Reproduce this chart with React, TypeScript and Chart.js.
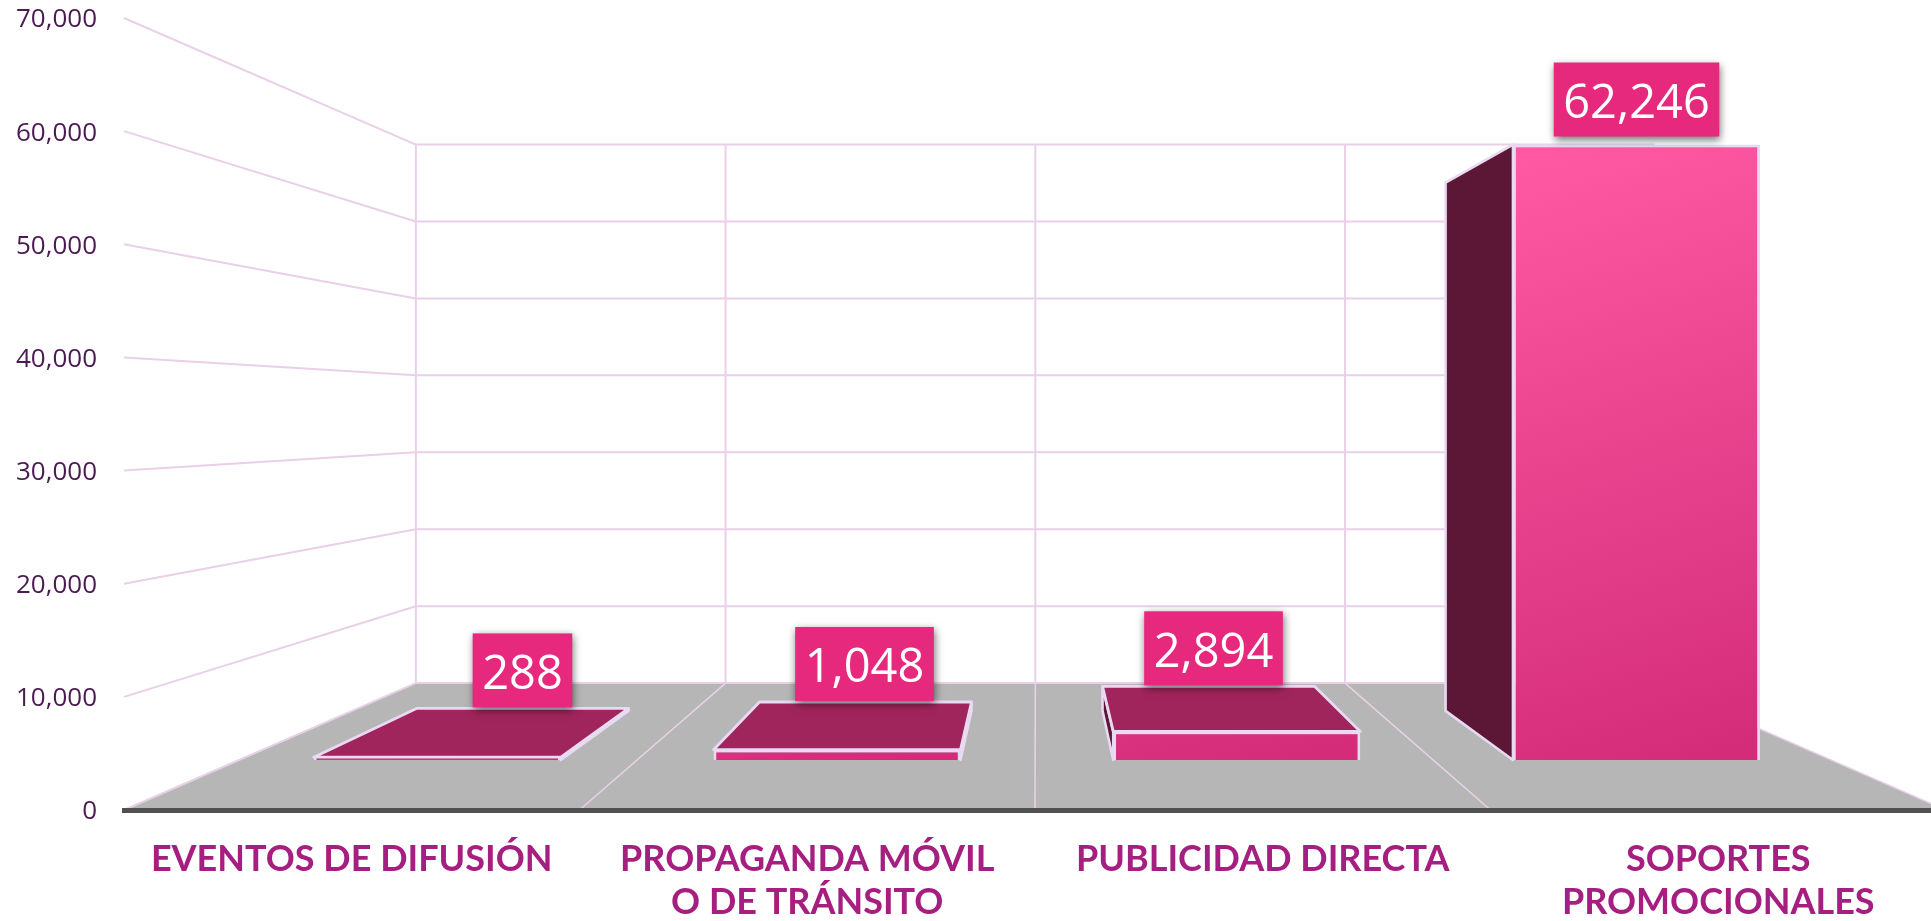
import React, { useEffect, useRef } from "react";
import { Chart, registerables } from "chart.js";

Chart.register(...registerables);

const categories = [
  ["EVENTOS DE DIFUSIÓN"],
  ["PROPAGANDA MÓVIL", "O DE TRÁNSITO"],
  ["PUBLICIDAD DIRECTA"],
  ["SOPORTES", "PROMOCIONALES"],
];
const values = [288, 1048, 2894, 62246];
const yMax = 70000;
const yStep = 10000;

// Perspective set-up (the front plane is what Chart.js lays out)
const VX = 1036;
const VY = 413.5;
const WALL_S = 0.68;
const BAR_FRONT_S = 0.874;
const BAR_BACK_S = 0.75;
const BAR_X_GAIN = 1.0041;
const BAR_X_SHIFT = 1.76;
const labelNudgeX = [0, -1, 5, 0];

const LINE = "#e9d0e8";
const BORDER = "#e8daf2";
const FLOOR = "#b6b6b6";
const TOP_FACE = "#a0255c";
const SIDE_FACE = "#5c1736";
const BADGE = "#e7297d";

const P = (x: number, y: number, s: number): [number, number] => [VX + (x - VX) * s, VY + (y - VY) * s];
const B = (x: number, y: number, s: number): [number, number] => [
  VX + BAR_X_SHIFT + (x - VX) * s * BAR_X_GAIN,
  VY + (y - VY) * s,
];

function poly(ctx: CanvasRenderingContext2D, pts: [number, number][], fill: string | null, stroke: string | null, w = 2) {
  ctx.beginPath();
  pts.forEach((p, i) => (i ? ctx.lineTo(p[0], p[1]) : ctx.moveTo(p[0], p[1])));
  ctx.closePath();
  if (fill) {
    ctx.fillStyle = fill;
    ctx.fill();
  }
  if (stroke) {
    ctx.strokeStyle = stroke;
    ctx.lineWidth = w;
    ctx.lineJoin = "round";
    ctx.stroke();
  }
}

function seg(ctx: CanvasRenderingContext2D, a: [number, number], b: [number, number], w: number) {
  ctx.beginPath();
  ctx.moveTo(a[0], a[1]);
  ctx.lineTo(b[0], b[1]);
  ctx.strokeStyle = LINE;
  ctx.lineWidth = w;
  ctx.stroke();
}

const perspective3D = {
  id: "perspective3D",
  afterLayout(chart: any) {
    // the value labels sit a little under their grid lines
    chart.scales.y.getLabelItems().forEach((it: any) => {
      it.options.translation[1] += 2;
    });
  },
  beforeDatasetsDraw(chart: any) {
    const { ctx, chartArea: a, scales } = chart;
    const y = scales.y;
    const left = a.left;
    const right = a.right;
    const base = a.bottom;
    ctx.save();
    // floor
    poly(ctx, [P(left, base, 1), P(right, base, 1), P(right, base, WALL_S), P(left, base, WALL_S)], FLOOR, null);
    // horizontal grid on both walls, from the y scale's ticks
    y.ticks.forEach((t: any) => {
      const py = y.getPixelForValue(t.value);
      seg(ctx, P(left, py, 1), P(left, py, WALL_S), 2);
      seg(ctx, P(left, py, WALL_S), P(right, py, WALL_S), 2);
    });
    // category separators: on the back wall and across the floor
    const n = categories.length;
    const top = y.getPixelForValue(yMax);
    for (let i = 0; i < n; i++) {
      const x = left + ((right - left) * i) / n;
      seg(ctx, P(x, top, WALL_S), P(x, base, WALL_S), 2);
      if (i > 0) seg(ctx, P(x, base, WALL_S), P(x, base, 1), 1.6);
    }
    seg(ctx, P(right, base, WALL_S), P(right, base, 1), 1.6);
    ctx.restore();
  },
  beforeDatasetDraw(chart: any, args: any) {
    const { ctx } = chart;
    const meta = chart.getDatasetMeta(args.index);
    ctx.save();
    meta.data.forEach((bar: any) => {
      const hw = bar.width / 2;
      const l = bar.x - hw;
      const r = bar.x + hw;
      const t = bar.y;
      const b = bar.base;
      if (l > VX) {
        poly(ctx, [B(l, b, BAR_FRONT_S), B(l, t, BAR_FRONT_S), B(l, t, BAR_BACK_S), B(l, b, BAR_BACK_S)], SIDE_FACE, BORDER, 2.6);
      } else if (r < VX) {
        poly(ctx, [B(r, b, BAR_FRONT_S), B(r, t, BAR_FRONT_S), B(r, t, BAR_BACK_S), B(r, b, BAR_BACK_S)], SIDE_FACE, BORDER, 2.6);
      }
      if (t > VY) {
        poly(ctx, [B(l, t, BAR_FRONT_S), B(r, t, BAR_FRONT_S), B(r, t, BAR_BACK_S), B(l, t, BAR_BACK_S)], TOP_FACE, BORDER, 2.8);
      }
    });
    ctx.restore();
    // the library's own bars become the front faces of the boxes
    ctx.save();
    ctx.translate(VX + BAR_X_SHIFT, VY);
    ctx.scale(BAR_FRONT_S * BAR_X_GAIN, BAR_FRONT_S);
    ctx.translate(-VX, -VY);
  },
  afterDatasetDraw(chart: any) {
    chart.ctx.restore();
  },
  afterDatasetsDraw(chart: any) {
    const { ctx } = chart;
    const meta = chart.getDatasetMeta(0);
    ctx.save();
    ctx.font = "47px 'Open Sans'";
    ctx.textAlign = "center";
    ctx.textBaseline = "middle";
    meta.data.forEach((bar: any, i: number) => {
      const label = values[i].toLocaleString("en-US");
      const front = B(bar.x, bar.y, BAR_FRONT_S);
      const back = B(bar.x, bar.y, BAR_BACK_S);
      const edge = front[1] < back[1] ? front : back;
      const w = ctx.measureText(label).width + 19;
      const h = 74;
      const cx = edge[0] + labelNudgeX[i];
      const by = edge[1] - (front[1] < back[1] ? 8 : 1);
      ctx.save();
      ctx.shadowColor = "rgba(0,0,0,0.55)";
      ctx.shadowBlur = 8;
      ctx.shadowOffsetX = 1;
      ctx.shadowOffsetY = 3;
      ctx.fillStyle = BADGE;
      ctx.fillRect(cx - w / 2, by - h, w, h);
      ctx.restore();
      ctx.fillStyle = "#ffffff";
      ctx.fillText(label, cx, by - h / 2 + 5);
    });
    ctx.restore();
  },
};

export default function App() {
  const ref = useRef<HTMLCanvasElement | null>(null);
  useEffect(() => {
    if (!ref.current) return;
    const chart = new Chart(ref.current, {
      type: "bar",
      data: {
        labels: categories as any,
        datasets: [
          {
            data: values,
            clip: false as any,
            categoryPercentage: 1,
            barPercentage: 0.618,
            borderWidth: 3.2,
            borderColor: BORDER,
            backgroundColor: (c: any) => {
              const ch = c.chart;
              const { x, y } = ch.scales;
              const fallback = "#d62f7b";
              if (!x || !y) return fallback;
              const cx = x.getPixelForValue(c.dataIndex) - 138;
              const y0 = y.getPixelForValue(Math.max(...values));
              const y1 = y.getPixelForValue(0);
              if (![cx, y0, y1].every(Number.isFinite)) return fallback;
              const g = ch.ctx.createLinearGradient(cx, y0, cx + 216, y1);
              g.addColorStop(0, "#ff5aa3");
              g.addColorStop(1, "#d42c79");
              return g;
            },
          },
        ],
      },
      options: {
        responsive: false,
        animation: false,
        devicePixelRatio: 1,
        layout: { autoPadding: false, padding: { top: 18, left: 0, right: 0, bottom: 0 } },
        plugins: { legend: { display: false }, tooltip: { enabled: false }, title: { display: false } },
        scales: {
          x: {
            grid: { display: false, drawTicks: false },
            border: { display: true, color: "#505050", width: 5, z: 1 },
            afterFit: (s: any) => {
              s.height = 111;
            },
            ticks: {
              maxRotation: 0,
              minRotation: 0,
              autoSkip: false,
              padding: 28,
              color: "#a51e80",
              font: { family: "Lato", weight: "bold", size: 36, lineHeight: 1.2 },
            },
          },
          y: {
            min: 0,
            max: yMax,
            grid: { display: false, drawTicks: false },
            border: { display: false },
            afterFit: (s: any) => {
              s.width = 124;
              s.paddingTop = 0;
              s.paddingBottom = 0;
            },
            ticks: {
              stepSize: yStep,
              padding: 27,
              color: "#4b1a52",
              font: { family: "'Open Sans'", size: 26 },
              callback: (v: any) => Number(v).toLocaleString("en-US"),
            },
          },
        },
      } as any,
      plugins: [perspective3D as any],
    });
    return () => chart.destroy();
  }, []);
  return (
    <div style={{ position: "absolute", left: 0, top: 0, width: 1931, height: 921, overflow: "hidden", background: "#fff" }}>
      <canvas ref={ref} width={1946} height={921} style={{ display: "block" }} />
    </div>
  );
}
